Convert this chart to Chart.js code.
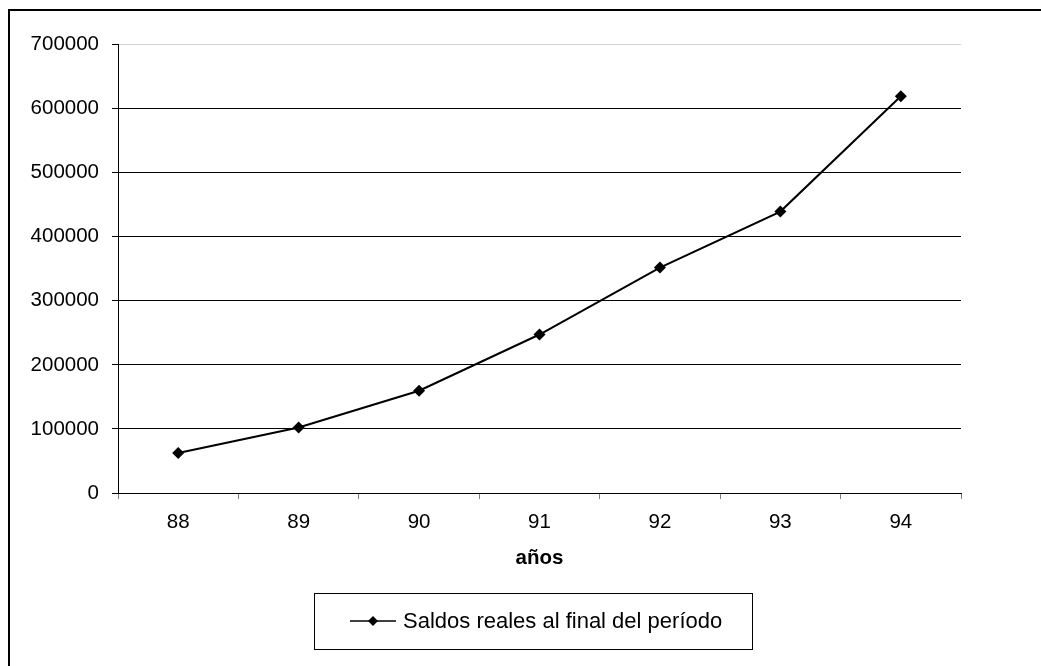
<!DOCTYPE html>
<html>
<head>
<meta charset="utf-8">
<script src="https://cdn.jsdelivr.net/npm/chart.js@4/dist/chart.umd.min.js"></script>
<style>
  html, body { margin: 0; padding: 0; background: #fff; }
  #wrap { position: relative; width: 1041px; height: 666px; overflow: hidden; }
  #frame { position: absolute; left: 8px; top: 9px; width: 1100px; height: 700px;
           border-top: 2px solid #000; border-left: 2px solid #000; }
  #c { position: absolute; left: 0; top: 0; }
</style>
</head>
<body>
<div id="wrap">
  <div id="frame"></div>
  <canvas id="c" width="1041" height="666"></canvas>
</div>
<script>
// ---- data ----
const categories = ['88', '89', '90', '91', '92', '93', '94'];
const saldosReales = [62400, 102300, 159600, 247400, 352000, 439300, 619300];
const seriesLabel = 'Saldos reales al final del período';
const xAxisTitle = 'años';
const yMin = 0;
const yMax = 700000;
const yStep = 100000;

const FONT = '"Liberation Sans", Arial, sans-serif';

const boxLegend = {
  id: 'boxLegend',
  afterDraw(chart, args, opts) {
    const ctx = chart.ctx;
    const ds = chart.data.datasets[0];
    ctx.save();
    ctx.font = opts.fontSize + 'px ' + FONT;
    const tw = ctx.measureText(ds.label).width;
    const left = opts.left, top = opts.top, h = opts.height;
    const w = opts.padLeft + opts.sampleW + opts.gap + tw + opts.padRight;
    const cy = top + h / 2;
    ctx.strokeStyle = '#000';
    ctx.lineWidth = 1;
    ctx.strokeRect(Math.round(left) + 0.5, Math.round(top) + 0.5, Math.round(w), Math.round(h));
    const sx = left + opts.padLeft;
    ctx.beginPath();
    ctx.moveTo(sx, cy);
    ctx.lineTo(sx + opts.sampleW, cy);
    ctx.lineWidth = 1.5;
    ctx.stroke();
    const mx = sx + opts.sampleW / 2, r = 5;
    ctx.beginPath();
    ctx.moveTo(mx, cy - r); ctx.lineTo(mx + r, cy); ctx.lineTo(mx, cy + r); ctx.lineTo(mx - r, cy);
    ctx.closePath();
    ctx.fillStyle = '#000';
    ctx.fill();
    ctx.textBaseline = 'middle';
    ctx.textAlign = 'left';
    ctx.fillText(ds.label, sx + opts.sampleW + opts.gap, cy + 1);
    ctx.restore();
  }
};

new Chart(document.getElementById('c'), {
  type: 'line',
  data: {
    labels: categories,
    datasets: [{
      label: seriesLabel,
      data: saldosReales,
      borderColor: '#000',
      backgroundColor: '#000',
      borderWidth: 2,
      tension: 0,
      pointStyle: 'rectRot',
      pointRadius: 6,
      pointHoverRadius: 6,
      pointBackgroundColor: '#000',
      pointBorderColor: '#000',
      pointBorderWidth: 0
    }]
  },
  options: {
    responsive: false,
    animation: false,
    events: [],
    layout: { padding: { left: 0, right: 80, top: 44.6, bottom: 95 } },
    plugins: {
      legend: { display: false },
      tooltip: { enabled: false },
      boxLegend: { left: 314, top: 593, height: 56, padLeft: 36, sampleW: 46, gap: 7, padRight: 30, fontSize: 22 }
    },
    scales: {
      x: {
        offset: true,
        afterFit(scale) { scale.height = 78; },
        grid: { display: true, offset: true, drawOnChartArea: false, drawTicks: true, tickLength: 6, tickColor: '#808080' },
        border: { display: true, color: '#000', width: 1 },
        ticks: { color: '#000', font: { family: FONT, size: 20.5 }, padding: 11, maxRotation: 0 },
        title: { display: true, text: xAxisTitle, color: '#000', font: { family: FONT, size: 20.5, weight: 'bold' }, padding: { top: 0, bottom: 0 } }
      },
      y: {
        min: yMin,
        max: yMax,
        afterFit(scale) { scale.width = 118; },
        ticks: {
          stepSize: yStep,
          color: '#000',
          padding: 13,
          font: { family: FONT, size: 20.5 },
          callback: (v) => String(v)
        },
        grid: {
          color: (c) => (c.tick && c.tick.value === yMax) ? '#d4d4d4' : '#000',
          tickColor: '#000',
          tickLength: 6,
          lineWidth: 1
        },
        border: { display: true, color: '#000', width: 1 }
      }
    }
  },
  plugins: [boxLegend]
});
</script>
</body>
</html>
